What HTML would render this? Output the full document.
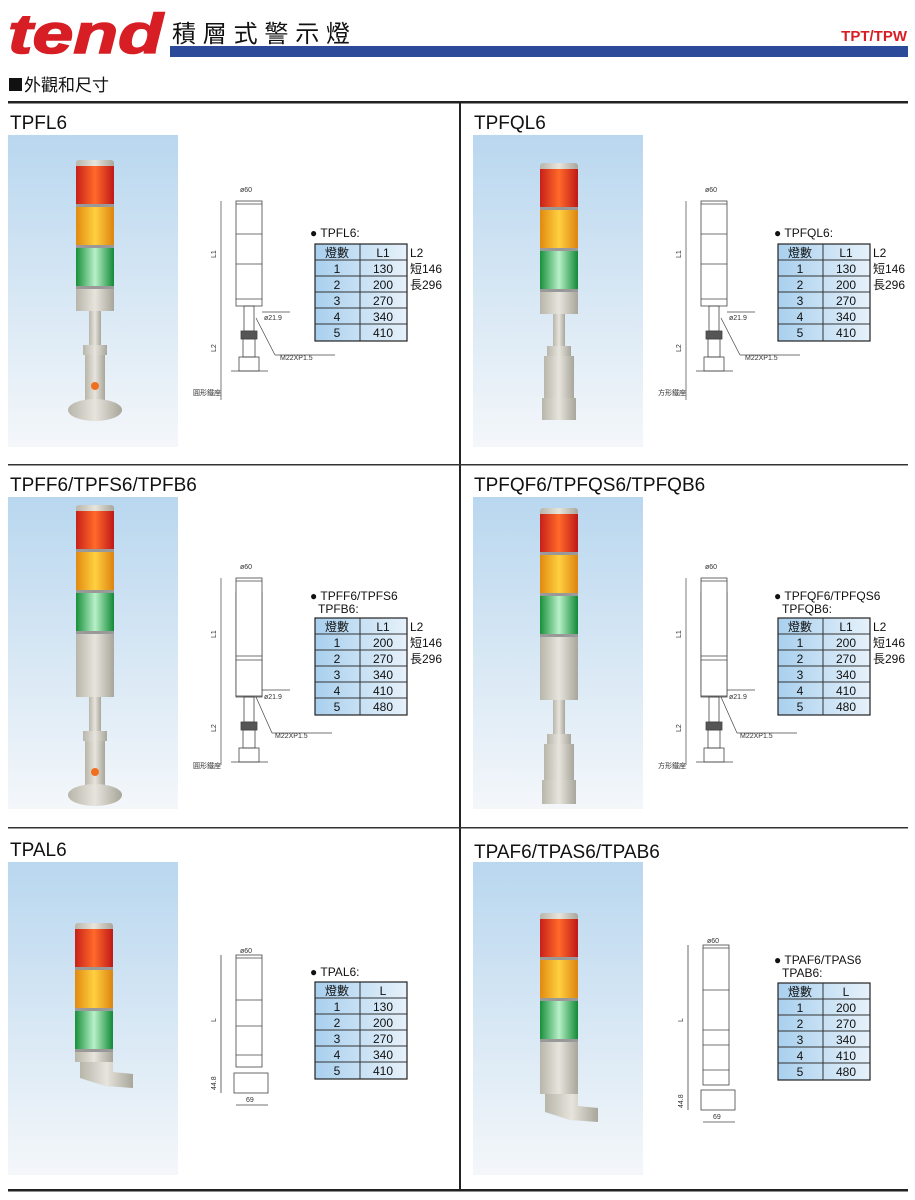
<!DOCTYPE html>
<html><head><meta charset="utf-8"><style>
body{margin:0;background:#fff;width:915px;height:1200px;overflow:hidden}
svg{display:block}
text{font-family:"Liberation Sans","Noto Sans CJK TC",sans-serif}
.t{font-size:19px;fill:#111}
.s{font-size:12px;fill:#111}
.d{font-size:7px;fill:#333}
</style></head><body>
<svg width="915" height="1200" viewBox="0 0 915 1200">
<defs>
<linearGradient id="bg" x1="0" y1="0" x2="0" y2="1"><stop offset="0" stop-color="#b9d7ef"/><stop offset="1" stop-color="#f4f7fa"/></linearGradient>
<linearGradient id="red" x1="0" x2="1"><stop offset="0" stop-color="#c8201a"/><stop offset=".5" stop-color="#ff6a2a"/><stop offset="1" stop-color="#c01818"/></linearGradient>
<linearGradient id="org" x1="0" x2="1"><stop offset="0" stop-color="#e08a10"/><stop offset=".5" stop-color="#ffd040"/><stop offset="1" stop-color="#dd8410"/></linearGradient>
<linearGradient id="grn" x1="0" x2="1"><stop offset="0" stop-color="#18903a"/><stop offset=".5" stop-color="#b8f0c8"/><stop offset="1" stop-color="#128a36"/></linearGradient>
<linearGradient id="gry" x1="0" x2="1"><stop offset="0" stop-color="#b8b6aa"/><stop offset=".5" stop-color="#e6e4dc"/><stop offset="1" stop-color="#a8a69a"/></linearGradient>
<linearGradient id="tb" x1="0" x2="1"><stop offset="0" stop-color="#a9d0ee"/><stop offset="1" stop-color="#e6f1fa"/></linearGradient>
<g id="head"><rect x="0" y="0" width="38" height="8" rx="3" fill="url(#gry)"/><rect x="0" y="6" width="38" height="38" fill="url(#red)"/><rect x="0" y="44" width="38" height="3" fill="#999"/><rect x="0" y="47" width="38" height="38" fill="url(#org)"/><rect x="0" y="85" width="38" height="3" fill="#999"/><rect x="0" y="88" width="38" height="38" fill="url(#grn)"/><rect x="0" y="126" width="38" height="3" fill="#999"/></g>
<g id="tab">
<rect x="0" y="0" width="92" height="97" fill="url(#tb)" stroke="#222" stroke-width="1.2"/>
<line x1="0" y1="16" x2="92" y2="16" stroke="#333"/><line x1="0" y1="32" x2="92" y2="32" stroke="#333"/><line x1="0" y1="48" x2="92" y2="48" stroke="#333"/><line x1="0" y1="64" x2="92" y2="64" stroke="#333"/><line x1="0" y1="80" x2="92" y2="80" stroke="#333"/><line x1="45" y1="0" x2="45" y2="97" stroke="#333"/>
</g>
<g id="col1" fill="none" stroke="#444" stroke-width="0.8">
<rect x="0" y="0" width="26" height="105" fill="#fff"/><line x1="0" y1="3" x2="26" y2="3"/><line x1="0" y1="33" x2="26" y2="33"/><line x1="0" y1="63" x2="26" y2="63"/><line x1="0" y1="98" x2="26" y2="98"/>
<rect x="8" y="105" width="10" height="25"/><rect x="5" y="130" width="16" height="8" fill="#555"/><rect x="7" y="138" width="12" height="18"/><rect x="3" y="156" width="20" height="14"/><line x1="-5" y1="170" x2="32" y2="170"/>
</g>
</defs>

<!-- header -->
<text x="8" y="53" font-size="56" font-weight="bold" font-style="italic" fill="#d81e25" stroke="#d81e25" stroke-width="1.5" textLength="155" lengthAdjust="spacingAndGlyphs" style="font-family:'Liberation Sans',sans-serif">tend</text>
<text x="172" y="42" font-size="24" fill="#111" textLength="178" style="font-family:'Liberation Sans','Noto Sans CJK TC',sans-serif">積層式警示燈</text>
<rect x="170" y="46" width="738" height="11" fill="#2b4a9a"/>
<text x="907" y="41" font-size="15" font-weight="bold" fill="#d81e25" text-anchor="end">TPT/TPW</text>
<rect x="9" y="78" width="13" height="13" fill="#111"/>
<text x="24" y="91" font-size="17" fill="#111">外觀和尺寸</text>
<rect x="8" y="101" width="900" height="2.5" fill="#222"/>
<rect x="459" y="103" width="2" height="1088" fill="#222"/>
<rect x="8" y="464" width="900" height="1.5" fill="#333"/>
<rect x="8" y="827" width="900" height="1.5" fill="#333"/>
<rect x="8" y="1189" width="900" height="2.5" fill="#222"/>

<!-- titles -->
<text class="t" x="10" y="129">TPFL6</text>
<text class="t" x="474" y="129">TPFQL6</text>
<text class="t" x="10" y="491">TPFF6/TPFS6/TPFB6</text>
<text class="t" x="474" y="491">TPFQF6/TPFQS6/TPFQB6</text>
<text class="t" x="10" y="856">TPAL6</text>
<text class="t" x="474" y="858">TPAF6/TPAS6/TPAB6</text>

<!-- photos -->
<rect x="8" y="135" width="170" height="312" fill="url(#bg)"/>
<rect x="473" y="135" width="170" height="312" fill="url(#bg)"/>
<rect x="8" y="497" width="170" height="312" fill="url(#bg)"/>
<rect x="473" y="497" width="170" height="312" fill="url(#bg)"/>
<rect x="8" y="862" width="170" height="313" fill="url(#bg)"/>
<rect x="473" y="862" width="170" height="313" fill="url(#bg)"/>

<use href="#head" x="76" y="160"/>
<rect x="76" y="289" width="38" height="22" fill="url(#gry)"/>
<rect x="89" y="311" width="12" height="36" fill="url(#gry)"/>
<rect x="83" y="345" width="24" height="10" fill="url(#gry)"/>
<rect x="85" y="355" width="20" height="45" fill="url(#gry)"/>
<circle cx="95" cy="386" r="4" fill="#f07020"/>
<ellipse cx="95" cy="410" rx="27" ry="11" fill="url(#gry)"/>
<use href="#head" x="540" y="163"/>
<rect x="540" y="292" width="38" height="22" fill="url(#gry)"/>
<rect x="553" y="314" width="12" height="34" fill="url(#gry)"/>
<rect x="547" y="346" width="24" height="10" fill="url(#gry)"/>
<rect x="544" y="356" width="30" height="45" fill="url(#gry)"/>
<rect x="542" y="398" width="34" height="22" fill="url(#gry)"/>
<use href="#head" x="76" y="505"/>
<rect x="76" y="634" width="38" height="63" fill="url(#gry)"/>
<rect x="89" y="697" width="12" height="36" fill="url(#gry)"/>
<rect x="83" y="731" width="24" height="10" fill="url(#gry)"/>
<rect x="85" y="741" width="20" height="45" fill="url(#gry)"/>
<circle cx="95" cy="772" r="4" fill="#f07020"/>
<ellipse cx="95" cy="795" rx="27" ry="11" fill="url(#gry)"/>
<use href="#head" x="540" y="508"/>
<rect x="540" y="637" width="38" height="63" fill="url(#gry)"/>
<rect x="553" y="700" width="12" height="36" fill="url(#gry)"/>
<rect x="547" y="734" width="24" height="10" fill="url(#gry)"/>
<rect x="544" y="744" width="30" height="40" fill="url(#gry)"/>
<rect x="542" y="780" width="34" height="24" fill="url(#gry)"/>
<use href="#head" x="75" y="923"/>
<rect x="75" y="1052" width="38" height="10" fill="url(#gry)"/>
<path d="M80 1062 h33 v10 l20 2 v14 l-28 -2 l-25 -8 z" fill="url(#gry)"/>
<use href="#head" x="540" y="913"/>
<rect x="540" y="1042" width="38" height="52" fill="url(#gry)"/>
<path d="M545 1094 h33 v12 l20 2 v14 l-28 -2 l-25 -8 z" fill="url(#gry)"/>

<use href="#col1" x="236" y="201"/>
<use href="#col1" x="701" y="201"/>
<use href="#col1" x="236" y="592"/>
<use href="#col1" x="701" y="592"/>
<g stroke="#444" stroke-width="0.7" fill="none">
<line x1="221" y1="201" x2="221" y2="400"/><line x1="686" y1="201" x2="686" y2="400"/>
<line x1="221" y1="578" x2="221" y2="765"/><line x1="686" y1="578" x2="686" y2="765"/>
<line x1="262" y1="312" x2="290" y2="312"/><line x1="727" y1="312" x2="755" y2="312"/>
<line x1="262" y1="690" x2="290" y2="690"/><line x1="727" y1="690" x2="755" y2="690"/>
<line x1="256" y1="318" x2="275" y2="355"/><line x1="275" y1="355" x2="335" y2="355"/>
<line x1="721" y1="318" x2="740" y2="355"/><line x1="740" y1="355" x2="800" y2="355"/>
<line x1="256" y1="697" x2="272" y2="733"/><line x1="272" y1="733" x2="332" y2="733"/>
<line x1="721" y1="697" x2="737" y2="733"/><line x1="737" y1="733" x2="797" y2="733"/>
</g>
<g fill="#fff" stroke="#444" stroke-width="0.8">
<rect x="236" y="578" width="26" height="118"/><rect x="701" y="578" width="26" height="118"/>
</g>
<g stroke="#444" stroke-width="0.8"><line x1="236" y1="581" x2="262" y2="581"/><line x1="236" y1="656" x2="262" y2="656"/><line x1="236" y1="660" x2="262" y2="660"/><line x1="701" y1="581" x2="727" y2="581"/><line x1="701" y1="656" x2="727" y2="656"/><line x1="701" y1="660" x2="727" y2="660"/></g>
<g class="d">
<text class="d" x="240" y="192">ø60</text><text class="d" x="705" y="192">ø60</text>
<text class="d" x="240" y="569">ø60</text><text class="d" x="705" y="569">ø60</text>
<text class="d" x="264" y="320">ø21.9</text><text class="d" x="729" y="320">ø21.9</text>
<text class="d" x="264" y="699">ø21.9</text><text class="d" x="729" y="699">ø21.9</text>
<text class="d" x="280" y="360" font-size="8">M22XP1.5</text><text class="d" x="745" y="360" font-size="8">M22XP1.5</text>
<text class="d" x="275" y="738" font-size="8">M22XP1.5</text><text class="d" x="740" y="738" font-size="8">M22XP1.5</text>
<text class="d" x="193" y="395">圓形鐵座</text><text class="d" x="658" y="395">方形鐵座</text>
<text class="d" x="193" y="768">圓形鐵座</text><text class="d" x="658" y="768">方形鐵座</text>
<text class="d" x="216" y="258" transform="rotate(-90 216 258)">L1</text><text class="d" x="681" y="258" transform="rotate(-90 681 258)">L1</text>
<text class="d" x="216" y="352" transform="rotate(-90 216 352)">L2</text><text class="d" x="681" y="352" transform="rotate(-90 681 352)">L2</text>
<text class="d" x="216" y="638" transform="rotate(-90 216 638)">L1</text><text class="d" x="681" y="638" transform="rotate(-90 681 638)">L1</text>
<text class="d" x="216" y="732" transform="rotate(-90 216 732)">L2</text><text class="d" x="681" y="732" transform="rotate(-90 681 732)">L2</text>
</g>

<g fill="#fff" stroke="#444" stroke-width="0.8">
<rect x="236" y="955" width="26" height="112"/><line x1="236" y1="958" x2="262" y2="958"/><line x1="236" y1="1000" x2="262" y2="1000"/><line x1="236" y1="1026" x2="262" y2="1026"/><line x1="236" y1="1055" x2="262" y2="1055"/>
<rect x="234" y="1073" width="34" height="20"/><line x1="221" y1="955" x2="221" y2="1093"/><line x1="236" y1="1105" x2="268" y2="1105"/>
<rect x="703" y="945" width="26" height="140"/><line x1="703" y1="948" x2="729" y2="948"/><line x1="703" y1="990" x2="729" y2="990"/><line x1="703" y1="1030" x2="729" y2="1030"/><line x1="703" y1="1045" x2="729" y2="1045"/><line x1="703" y1="1070" x2="729" y2="1070"/>
<rect x="701" y="1090" width="34" height="20"/><line x1="688" y1="945" x2="688" y2="1110"/><line x1="703" y1="1122" x2="735" y2="1122"/>
</g>
<text class="d" x="240" y="953">ø60</text><text class="d" x="707" y="943">ø60</text>
<text class="d" x="216" y="1022" transform="rotate(-90 216 1022)">L</text><text class="d" x="683" y="1022" transform="rotate(-90 683 1022)">L</text>
<text class="d" x="216" y="1090" transform="rotate(-90 216 1090)">44.8</text><text class="d" x="683" y="1108" transform="rotate(-90 683 1108)">44.8</text>
<text class="d" x="246" y="1102">69</text><text class="d" x="713" y="1119">69</text>

<use href="#tab" x="315" y="244"/>
<use href="#tab" x="778" y="244"/>
<use href="#tab" x="315" y="618"/>
<use href="#tab" x="778" y="618"/>
<use href="#tab" x="315" y="982"/>
<use href="#tab" x="778" y="983"/>

<g class="s">
<text x="310" y="237">● TPFL6:</text>
<text x="774" y="237">● TPFQL6:</text>
<text x="310" y="600">● TPFF6/TPFS6</text><text x="318" y="613">TPFB6:</text>
<text x="774" y="600">● TPFQF6/TPFQS6</text><text x="782" y="613">TPFQB6:</text>
<text x="310" y="976">● TPAL6:</text>
<text x="774" y="964">● TPAF6/TPAS6</text><text x="782" y="977">TPAB6:</text>
</g>
<g class="s" text-anchor="middle">
<text x="337" y="257">燈數</text><text x="383" y="257">L1</text>
<text x="337" y="273">1</text><text x="383" y="273">130</text>
<text x="337" y="289">2</text><text x="383" y="289">200</text>
<text x="337" y="305">3</text><text x="383" y="305">270</text>
<text x="337" y="321">4</text><text x="383" y="321">340</text>
<text x="337" y="337">5</text><text x="383" y="337">410</text>

<text x="800" y="257">燈數</text><text x="846" y="257">L1</text>
<text x="800" y="273">1</text><text x="846" y="273">130</text>
<text x="800" y="289">2</text><text x="846" y="289">200</text>
<text x="800" y="305">3</text><text x="846" y="305">270</text>
<text x="800" y="321">4</text><text x="846" y="321">340</text>
<text x="800" y="337">5</text><text x="846" y="337">410</text>

<text x="337" y="631">燈數</text><text x="383" y="631">L1</text>
<text x="337" y="647">1</text><text x="383" y="647">200</text>
<text x="337" y="663">2</text><text x="383" y="663">270</text>
<text x="337" y="679">3</text><text x="383" y="679">340</text>
<text x="337" y="695">4</text><text x="383" y="695">410</text>
<text x="337" y="711">5</text><text x="383" y="711">480</text>

<text x="800" y="631">燈數</text><text x="846" y="631">L1</text>
<text x="800" y="647">1</text><text x="846" y="647">200</text>
<text x="800" y="663">2</text><text x="846" y="663">270</text>
<text x="800" y="679">3</text><text x="846" y="679">340</text>
<text x="800" y="695">4</text><text x="846" y="695">410</text>
<text x="800" y="711">5</text><text x="846" y="711">480</text>

<text x="337" y="995">燈數</text><text x="383" y="995">L</text>
<text x="337" y="1011">1</text><text x="383" y="1011">130</text>
<text x="337" y="1027">2</text><text x="383" y="1027">200</text>
<text x="337" y="1043">3</text><text x="383" y="1043">270</text>
<text x="337" y="1059">4</text><text x="383" y="1059">340</text>
<text x="337" y="1075">5</text><text x="383" y="1075">410</text>

<text x="800" y="996">燈數</text><text x="846" y="996">L</text>
<text x="800" y="1012">1</text><text x="846" y="1012">200</text>
<text x="800" y="1028">2</text><text x="846" y="1028">270</text>
<text x="800" y="1044">3</text><text x="846" y="1044">340</text>
<text x="800" y="1060">4</text><text x="846" y="1060">410</text>
<text x="800" y="1076">5</text><text x="846" y="1076">480</text>
</g>
<g class="s">
<text x="410" y="257">L2</text><text x="410" y="273">短146</text><text x="410" y="289">長296</text>
<text x="873" y="257">L2</text><text x="873" y="273">短146</text><text x="873" y="289">長296</text>
<text x="410" y="631">L2</text><text x="410" y="647">短146</text><text x="410" y="663">長296</text>
<text x="873" y="631">L2</text><text x="873" y="647">短146</text><text x="873" y="663">長296</text>
</g>
</svg>
</body></html>
